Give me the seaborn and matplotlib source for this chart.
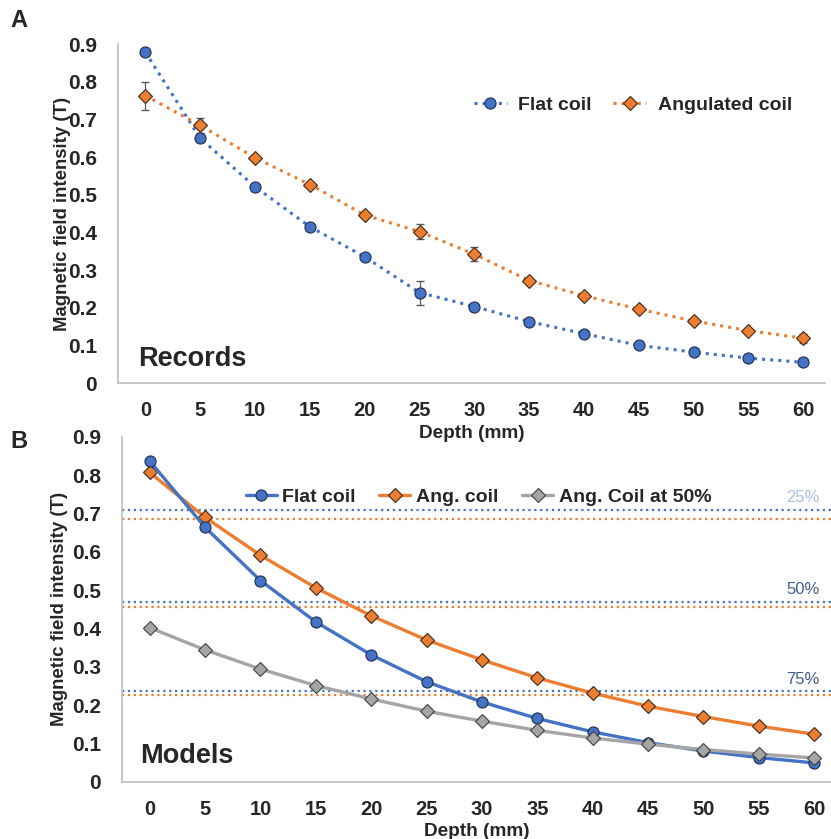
import numpy as np
import pandas as pd
import seaborn as sns
from matplotlib import pyplot as plt

# depth values (mm)
depth = [0, 5, 10, 15, 20, 25, 30, 35, 40, 45, 50, 55, 60]

# panel A - records
rec_flat = [0.878, 0.650, 0.521, 0.415, 0.335, 0.240, 0.203, 0.163, 0.131, 0.100, 0.082, 0.066, 0.055]
rec_flat_err = [0.005, 0.006, 0.005, 0.005, 0.005, 0.032, 0.006, 0.004, 0.004, 0.004, 0.003, 0.003, 0.003]
rec_ang = [0.763, 0.684, 0.598, 0.527, 0.446, 0.402, 0.342, 0.272, 0.232, 0.196, 0.165, 0.139, 0.119]
rec_ang_err = [0.037, 0.020, 0.006, 0.006, 0.006, 0.020, 0.018, 0.006, 0.005, 0.004, 0.004, 0.004, 0.012]

# panel B - models
mod_flat = [0.837, 0.664, 0.525, 0.417, 0.331, 0.261, 0.208, 0.165, 0.130, 0.102, 0.080, 0.063, 0.049]
mod_ang = [0.807, 0.690, 0.591, 0.506, 0.433, 0.370, 0.318, 0.271, 0.231, 0.197, 0.170, 0.145, 0.124]
mod_ang50 = [0.402, 0.344, 0.294, 0.251, 0.216, 0.184, 0.158, 0.134, 0.114, 0.098, 0.084, 0.072, 0.062]

# reference levels (25%, 50%, 75% drop)
lvl_names = ["25%", "50%", "75%"]
lvl_flat = [0.710, 0.469, 0.236]
lvl_ang = [0.686, 0.456, 0.225]
lvl_colors = ["#a9c0e4", "#3e5c8f", "#3e5c8f"]

yticks = [0, 0.1, 0.2, 0.3, 0.4, 0.5, 0.6, 0.7, 0.8, 0.9]
ytick_labels = ["0", "0.1", "0.2", "0.3", "0.4", "0.5", "0.6", "0.7", "0.8", "0.9"]

BLUE = "#4472c4"
ORANGE = "#ed7d31"
GRAY = "#a5a5a5"

sns.set_style("white")
plt.rcParams["font.family"] = ["Liberation Sans", "DejaVu Sans"]
plt.rcParams["font.weight"] = "bold"

fig = plt.figure(figsize=(8.31, 8.39), dpi=100)
ax_a = fig.add_axes([0.142, 0.5435, 0.851, 0.404])
ax_b = fig.add_axes([0.1468, 0.0683, 0.853, 0.411])
ax_a.patch.set_visible(False)
ax_b.patch.set_visible(False)


def style_axes(ax, xlim):
    ax.set_xlim(*xlim)
    ax.set_ylim(0, 0.9)
    ax.set_xticks(depth)
    ax.set_xticklabels([str(d) for d in depth], fontsize=14.5, fontweight="bold")
    ax.set_yticks(yticks)
    ax.set_yticklabels(ytick_labels, fontsize=15, fontweight="bold")
    ax.tick_params(axis="both", length=0)
    ax.tick_params(axis="x", pad=13)
    ax.tick_params(axis="y", pad=15)
    for s in ["top", "right"]:
        ax.spines[s].set_visible(False)
    for s in ["left", "bottom"]:
        ax.spines[s].set_color("#bfbfbf")
        ax.spines[s].set_linewidth(1.2)
    ax.set_xlabel("Depth (mm)", fontsize=13.7, fontweight="bold")
    ax.set_ylabel("Magnetic field intensity (T)", fontsize=13.4, fontweight="bold")


# ---- panel A
df_a = pd.DataFrame({"depth": depth, "flat": rec_flat, "ang": rec_ang})
ax_a.errorbar(depth, rec_flat, yerr=rec_flat_err, fmt="none", ecolor="#595959",
              elinewidth=0.9, capsize=3, zorder=1)
ax_a.errorbar(depth, rec_ang, yerr=rec_ang_err, fmt="none", ecolor="#595959",
              elinewidth=0.9, capsize=3, zorder=1)
sns.lineplot(data=df_a, x="depth", y="flat", ax=ax_a, color=BLUE, linestyle=":",
             linewidth=2.2, marker="o", markersize=8, markeredgecolor="#1f2f4f",
             markeredgewidth=0.8, label="Flat coil")
sns.lineplot(data=df_a, x="depth", y="ang", ax=ax_a, color=ORANGE, linestyle=":",
             linewidth=2.2, marker="D", markersize=7.5, markeredgecolor="#3a2a1a",
             markeredgewidth=0.8, label="Angulated coil")
style_axes(ax_a, (-2.5, 62))
ax_a.yaxis.set_label_coords(-0.067, 0.5)
ax_a.xaxis.set_label_coords(0.5, -0.125)
ax_a.legend(loc="center", bbox_to_anchor=(0.728, 0.82), ncol=2, frameon=False,
            handlelength=1.7, columnspacing=1.1, handletextpad=0.6,
            prop={"weight": "bold", "size": 14})
ax_a.text(0.028, 0.072, "Records", transform=ax_a.transAxes, fontsize=19.5,
          fontweight="bold", va="center", ha="left")
fig.text(0.013, 0.976, "A", fontsize=17, fontweight="bold", va="center")

# ---- panel B
for i in range(len(lvl_names)):
    ax_b.axhline(lvl_flat[i], color=BLUE, linestyle=":", linewidth=1.6, zorder=1)
    ax_b.axhline(lvl_ang[i], color=ORANGE, linestyle=":", linewidth=1.6, zorder=1)
    ax_b.text(59, lvl_flat[i] + 0.012, lvl_names[i], color=lvl_colors[i], fontsize=12,
              fontweight="normal", ha="center", va="bottom")

df_b = pd.DataFrame({"depth": depth, "flat": mod_flat, "ang": mod_ang, "ang50": mod_ang50})
sns.lineplot(data=df_b, x="depth", y="flat", ax=ax_b, color=BLUE, linewidth=2.4,
             marker="o", markersize=8, markeredgecolor="#1f2f4f", markeredgewidth=0.8,
             label="Flat coil", zorder=4)
sns.lineplot(data=df_b, x="depth", y="ang", ax=ax_b, color=ORANGE, linewidth=2.4,
             marker="D", markersize=7.5, markeredgecolor="#3a2a1a", markeredgewidth=0.8,
             label="Ang. coil", zorder=3)
sns.lineplot(data=df_b, x="depth", y="ang50", ax=ax_b, color=GRAY, linewidth=2.4,
             marker="D", markersize=7.5, markeredgecolor="#404040", markeredgewidth=0.8,
             label="Ang. Coil at 50%", zorder=5)
style_axes(ax_b, (-2.5, 61.5))
ax_b.yaxis.set_label_coords(-0.076, 0.5)
ax_b.xaxis.set_label_coords(0.5, -0.12)
ax_b.legend(loc="center", bbox_to_anchor=(0.503, 0.826), ncol=3, frameon=False,
            handlelength=1.6, columnspacing=1.2, handletextpad=0.3,
            prop={"weight": "bold", "size": 14})
ax_b.text(0.025, 0.075, "Models", transform=ax_b.transAxes, fontsize=19.5,
          fontweight="bold", va="center", ha="left")
fig.text(0.012, 0.4735, "B", fontsize=17, fontweight="bold", va="center")

fig.savefig("out.png", dpi=100)
